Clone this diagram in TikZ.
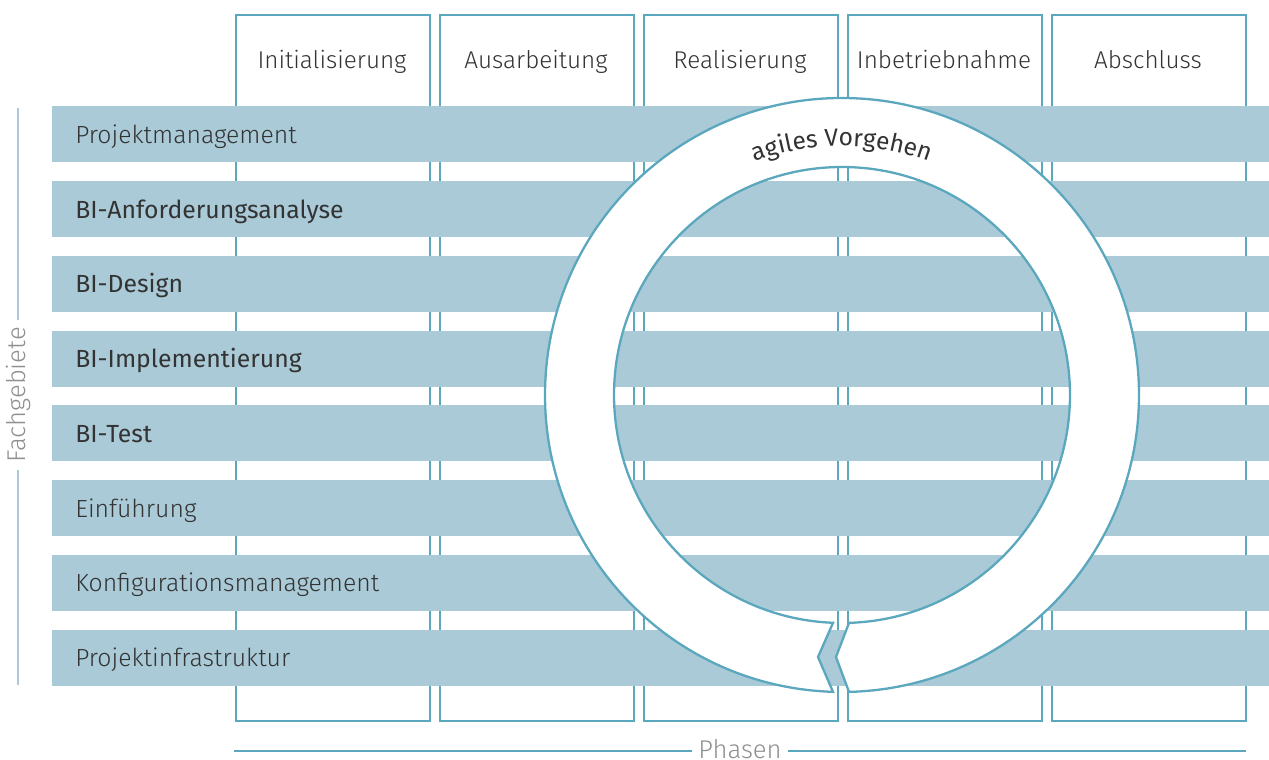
\documentclass[tikz,border=0pt]{standalone}
\usepackage{fontspec}
\setmainfont{Fira Sans Light}[BoldFont={Fira Sans}]
\usetikzlibrary{positioning,calc,decorations.text}

\definecolor{barblue}{HTML}{A9CAD6}
\definecolor{lineteal}{HTML}{5AA7BE}
\definecolor{txtdark}{HTML}{333333}
\definecolor{txtgray}{HTML}{8F8F8F}

\tikzset{
  phasebox/.style={draw=lineteal, line width=1.4pt, fill=white, inner sep=0pt,
    minimum width=3.88cm, minimum height=14.12cm, anchor=north west},
  phasetext/.style={text=txtdark, anchor=base, font=\fontsize{13.8}{16}\selectfont},
  bar/.style={fill=barblue, anchor=north west, align=left, text=txtdark,
    minimum height=1.12cm, text width=23.42cm, inner xsep=0.46cm, inner ysep=0pt,
    text height=0.36cm, text depth=0cm, font=\fontsize{14.1}{16}\selectfont},
  barbold/.style={bar, font=\fontsize{14.1}{16}\selectfont\bfseries},
  ring/.style={draw=lineteal, line width=1.3pt, fill=white},
  sidetext/.style={text=txtgray, inner ysep=0pt, font=\fontsize{14.6}{16}\selectfont}
}

\begin{document}
\begin{tikzpicture}[x=0.02cm, y=0.02cm]
\useasboundingbox (0,0) rectangle (1269,760);

% Phasen (Spalten)
\foreach \name [count=\i] in {Initialisierung, Ausarbeitung, Realisierung, Inbetriebnahme, Abschluss} {
  \node[phasebox] (b\i) at ({235+204*(\i-1)},746) {};
  \node[phasetext] (p\i) at ({332+204*(\i-1)},691) {\name};
}

% Fachgebiete (Zeilen)
\foreach \name/\sty [count=\i] in {Projektmanagement/bar, BI-Anforderungsanalyse/barbold,
  BI-Design/barbold, BI-Implementierung/barbold, BI-Test/barbold,
  Einführung/bar, Konfigurationsmanagement/bar, Projektinfrastruktur/bar} {
  \pgfmathsetmacro\ytop{654-74.75*(\i-1)}
  \node[\sty] (f\i) at (52,\ytop) {\name};
}

% agiles Vorgehen
\coordinate (c) at (842,365);
\draw[ring] ($(c)+(268.26:297)$) arc[start angle=268.26, end angle=-88.65, radius=297]
  -- (836,103) -- ($(c)+(-88.24:228)$) arc[start angle=-88.24, end angle=267.74, radius=228]
  -- (818,103) -- cycle;
\path[decorate, decoration={text along path, text align=center,
  text={|\fontsize{14}{16}\selectfont\bfseries\color{txtdark}|agiles Vorgehen}}]
  ($(c)+(115:249)$) arc[start angle=115, end angle=65, radius=249];

% Achsen
\node[sidetext, rotate=90, inner xsep=4pt] (fg) at (18,365) {Fachgebiete};
\coordinate (fgtop) at (18,652);
\coordinate (fgbot) at (18,75);
\draw[barblue, line width=1.3pt] (fg.east) -- (fgtop);
\draw[barblue, line width=1.3pt] (fg.west) -- (fgbot);

\node[sidetext] (ph) at (740,11) {Phasen};
\coordinate (phl) at (234,9);
\coordinate (phr) at (1246,9);
\draw[lineteal, line width=1.3pt] (phl) -- (ph.west |- phl);
\draw[lineteal, line width=1.3pt] (ph.east |- phr) -- (phr);
\end{tikzpicture}
\end{document}
